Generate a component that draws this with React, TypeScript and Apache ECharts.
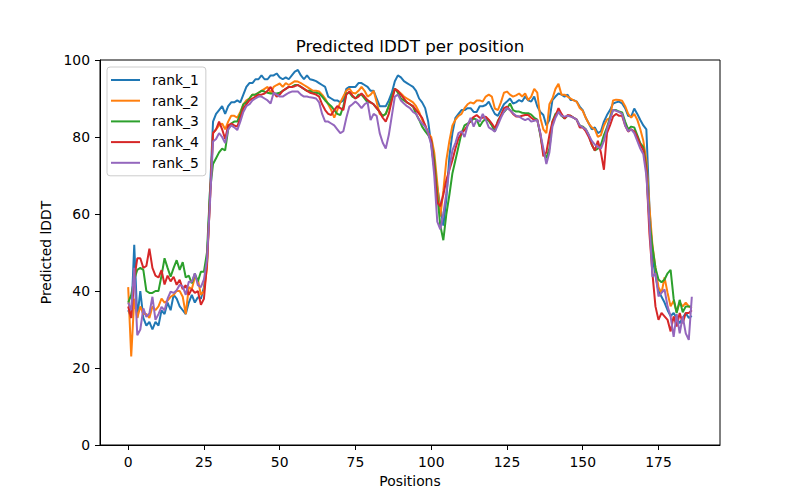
import React, { useEffect, useRef } from "react";
import * as echarts from "echarts";

const seriesNames = ["rank_1", "rank_2", "rank_3", "rank_4", "rank_5"];
const seriesColors = ["#1f77b4", "#ff7f0e", "#2ca02c", "#d62728", "#9467bd"];
const xTicks = [0, 25, 50, 75, 100, 125, 150, 175];
const yTicks = [0, 20, 40, 60, 80, 100];

const rank1 = [
  35, 33, 52, 33, 40, 33, 31, 32, 30, 32,
  31, 35, 34, 37, 35, 39, 38, 36, 35, 34,
  37, 39, 37, 38.4, 38, 41, 47, 66, 84, 86,
  87, 88, 86, 88, 89, 89, 89.5, 89, 91, 93,
  94, 94, 95, 95, 96, 95, 95, 96, 96, 96.5,
  95.5, 95, 95.5, 95, 96, 97, 97.4, 96, 95, 96,
  95, 94.8, 94.5, 94, 93.5, 93, 90.5, 90, 89.5, 89.5,
  89, 89.5, 92.5, 93, 93, 93, 94, 94, 93.5, 93,
  92, 92, 90, 88, 88, 88, 89.5, 91.5, 94.5, 96,
  95.5, 94.5, 94, 93.5, 93, 92, 90, 89, 87.5, 84,
  78, 72, 67, 62, 57, 64, 75, 81, 85, 86,
  87, 87, 87.5, 87.5, 86.5, 86.5, 88, 88, 88.3, 89.2,
  87.5, 86, 85.5, 87, 88.5, 89.2, 90, 88.7, 89, 89.6,
  89.2, 90.5, 89.5, 89.2, 90.5, 88, 86.5, 85.7, 83, 84.4,
  89.6, 90.5, 91.3, 91, 90.5, 91, 89.6, 89.6, 89.2, 87.9,
  87, 85, 83.5, 82, 82.5, 81, 81.5, 84, 85.7, 87,
  88.7, 89, 89.2, 88.7, 87.5, 85.5, 85.3, 87.4, 86, 84.4,
  83, 82, 62, 49, 44, 40, 38.5, 37, 35, 33.5,
  34.3, 33, 31.6, 33, 34.3, 33, 33.5,
];

const rank2 = [
  41, 23, 38, 33, 36, 34, 34, 33, 36, 35,
  36, 38, 37, 37.5, 38.5, 39, 40, 40, 38.5, 34,
  41, 40.5, 43.5, 43, 39, 40, 46, 64, 81, 82,
  83, 83.5, 82, 84, 85.5, 85.5, 85, 86.5, 88.5, 89.5,
  90, 91, 91, 91.5, 92, 92.5, 93, 91.5, 93, 93.5,
  93.9, 93, 94, 93.5, 94, 94.5, 94.4, 94, 93.5, 93,
  92.5, 92, 92, 91.8, 91, 90, 88.5, 87, 85, 87,
  89, 90.5, 92, 92.6, 91.5, 91.3, 92, 93, 92, 90.5,
  91, 92, 89, 86, 85.5, 86, 88, 90, 92.5, 92,
  91.3, 90.5, 90, 89.5, 89, 88, 86.5, 84.5, 83, 81,
  80, 76, 68, 59.3, 66, 74, 79, 83, 84.5, 85.5,
  86, 87.5, 88.5, 89, 88.7, 89.5, 89.5, 89.2, 90.5, 91,
  90.5, 87.4, 87, 89, 91.5, 91.8, 91, 90.5, 90.8, 91.3,
  90.5, 91.3, 89.6, 90.5, 92.5, 91.5, 85, 82, 81, 88.5,
  90, 92.5, 93.8, 91, 91, 90.5, 90, 89.5, 89.2, 87.5,
  86.8, 85, 83.5, 82.5, 82, 80, 80.5, 83, 84.5, 85,
  89.5, 89.7, 89.6, 89.4, 88, 86, 85, 86, 84.5, 82,
  79, 74, 62, 52, 46, 41, 39.5, 43.5, 39.5, 36,
  37.5, 34.5, 37, 36, 37, 36, 35.5,
];

const rank3 = [
  37, 39, 43, 45.5, 46, 45.5, 40, 39.5, 39.5, 40,
  40, 44, 48.5, 46, 43.7, 46, 48, 45.5, 47.5, 43.5,
  44, 42, 44.5, 42.5, 45, 45, 50, 66, 73, 74.5,
  76, 77, 76.5, 82, 83.5, 84, 84, 86, 88.5, 89,
  90, 91, 91, 91.5, 92, 91.8, 91.5, 91.3, 91.3, 91.3,
  91.5, 92, 92.5, 93, 93, 93.5, 93.5, 93, 92.5, 92,
  92, 91.5, 91.5, 91.3, 90.5, 89.5, 88.7, 88, 87, 86,
  85.7, 88, 91.3, 91.5, 90.5, 90, 91, 91, 90, 89,
  89, 88.5, 87.5, 86.5, 85.5, 86, 88, 90.5, 92.6, 91.5,
  90, 89.5, 89, 88.5, 87.9, 86, 84.5, 82.7, 81.5, 80.5,
  79, 74, 65, 57, 53.2, 60, 65, 70.6, 74, 77.5,
  81, 83, 83.5, 84, 84.8, 84.5, 82.7, 84, 84.8, 84.2,
  83, 81.4, 84.2, 85.5, 86.5, 87.4, 88.7, 87, 86.6, 86.6,
  86.3, 86.2, 86.2, 85.8, 85, 84.5, 80.5, 76, 74.5, 77,
  84, 86, 86.5, 85.5, 84.8, 85.5, 85.5, 85, 84.5, 83,
  82.7, 82, 80.5, 78, 76.5, 77, 78, 80.5, 82.5, 85,
  87, 87, 86.6, 86.4, 84, 82, 82.7, 82.5, 80.5, 78.4,
  77.4, 72.2, 58.4, 51.5, 46, 43, 42.3, 43, 44.6, 45.5,
  38, 34.3, 37.7, 34.5, 36, 36, 36,
];

const rank4 = [
  36, 33, 43, 48.5, 48.5, 46, 46.5, 51, 46, 44,
  43.5, 45.4, 41.7, 44, 42.5, 43.7, 41.6, 42.9, 40.5, 41.5,
  39, 40.5, 39.5, 40, 36.4, 38, 47, 64, 81, 82,
  84, 82, 79.5, 83, 83.5, 83, 82.7, 85, 87.5, 88.5,
  89.5, 90, 90.5, 91, 91, 91.3, 92, 93, 91.5, 90.5,
  91, 92, 92.5, 93, 93, 93.2, 93.5, 93, 92.5, 92,
  91.5, 91.3, 91, 90.5, 88.5, 87, 86, 85.7, 87, 88,
  87.5, 87, 91, 91.8, 90.8, 90, 90.5, 91.3, 90.5, 89.6,
  89, 88.5, 87.5, 86.5, 85, 84, 86, 89.5, 92.5, 92,
  91, 90, 89, 88.5, 88, 87, 86, 85, 83, 81,
  79, 72, 63, 62, 65, 68.8, 71.5, 74, 77, 79.7,
  81, 81.8, 83, 84.4, 85.2, 85.7, 85, 85, 85.3, 84.5,
  83.5, 82.3, 84, 85.7, 87.5, 87.9, 87, 86, 85.3, 85.3,
  85.5, 85.7, 85.7, 85, 84.4, 84.4, 81, 75, 76, 80.5,
  84, 85.5, 87.5, 86, 84.8, 85.7, 85.5, 85, 84.5, 82.5,
  82.5, 81.5, 80, 78, 76.5, 79, 76, 71.5, 81, 83,
  85.3, 86, 85.5, 85.5, 83, 81.4, 82, 81.5, 80, 78,
  76.6, 71.4, 55, 44.6, 36, 32.5, 34.3, 33.4, 32.5, 29.5,
  33.4, 30.8, 34.3, 31.6, 34.3, 34.3, 35,
];

const rank5 = [
  37, 35, 46, 28.5, 30, 35.5, 33.3, 34.2, 38.5, 32.5,
  34, 35.9, 35, 38, 39.8, 39.5, 40.2, 41.6, 41.2, 39,
  42.4, 42.4, 44.6, 41.5, 41, 43, 48, 63, 78.8, 79.5,
  81, 80, 78.4, 82, 83, 82.5, 81.8, 84, 86.5, 88,
  88.5, 89.5, 90, 90.5, 90.5, 90, 89.5, 88.7, 91.5, 91,
  90.5, 90.5, 91, 91.5, 91.8, 91.8, 91.8, 91, 90.5, 90.5,
  90.3, 90.2, 90, 89, 86, 84, 84, 83.5, 83, 82,
  81, 81.5, 85, 87.9, 88.5, 89.2, 88.5, 87.5, 88.5, 89,
  84.4, 86, 85.5, 81, 78.5, 77, 80.5, 85.5, 90.5, 91,
  89.5, 88.7, 88, 87.5, 86.5, 86, 84.5, 83.5, 82.7, 81,
  78, 70, 58, 56, 60, 65.4, 72, 76.5, 78.5, 81,
  81.5, 80, 83, 85, 82.7, 84.5, 84, 86, 84.5, 82.5,
  82, 81.4, 83.1, 85, 86.6, 87.5, 87, 86.2, 85.5, 85.3,
  84.8, 84.4, 84.8, 84, 84.2, 84.4, 81, 77, 73, 76,
  82.7, 85, 86.5, 85.5, 85.3, 85.5, 85.3, 85, 84.5, 83,
  82.5, 82, 80.5, 79, 78, 77.5, 77, 79, 82, 84.5,
  87, 86.8, 86.5, 86, 83, 81.5, 82, 81, 79, 77,
  75.5, 70, 58, 43.7, 44.6, 38.6, 39.5, 40.4, 36, 33.4,
  28.1, 34, 29, 33.4, 29, 27.3, 38.5,
];

const allSeries = [rank1, rank2, rank3, rank4, rank5];

const FONT = "DejaVu Sans";

export default function App() {
  const ref = useRef<HTMLDivElement>(null);

  useEffect(() => {
    if (!ref.current) return;
    const chart = echarts.init(ref.current, undefined, { renderer: "svg" });

    const series = allSeries.map((vals, k) => ({
      name: seriesNames[k],
      type: "line",
      data: vals.map((v, i) => [i, v]),
      showSymbol: false,
      symbol: "none",
      silent: true,
      lineStyle: { width: 2, color: seriesColors[k] },
      itemStyle: { color: seriesColors[k] },
      emphasis: { disabled: true },
    }));

    chart.setOption({
      animation: false,
      backgroundColor: "#ffffff",
      textStyle: { fontFamily: FONT },
      graphic: [
        {
          type: "text",
          x: 410,
          y: 46,
          style: {
            text: "Predicted lDDT per position",
            fontFamily: FONT,
            fontSize: 16.7,
            fill: "#000",
            align: "center",
            verticalAlign: "middle",
          },
        },
      ],
      grid: {
        left: 100,
        right: 80,
        top: 60,
        bottom: 55,
        show: true,
        borderColor: "#000",
        borderWidth: 1,
        containLabel: false,
      },
      legend: {
        orient: "vertical",
        left: 107,
        top: 67,
        padding: [6, 7, 6, 4],
        itemWidth: 29,
        itemHeight: 2,
        itemGap: 6.7,
        icon: "rect",
        backgroundColor: "rgba(255,255,255,0.8)",
        borderColor: "#cccccc",
        borderWidth: 1,
        borderRadius: 3,
        selectedMode: false,
        textStyle: {
          fontFamily: FONT,
          fontSize: 13.9,
          color: "#000",
          padding: [0, 0, 0, 7],
        },
        data: seriesNames,
      },
      xAxis: {
        type: "value",
        min: -9.3,
        max: 195.3,
        name: "Positions",
        nameLocation: "middle",
        nameGap: 27,
        nameTextStyle: { fontFamily: FONT, fontSize: 13.9, color: "#000" },
        axisLine: { show: true, onZero: false, lineStyle: { color: "#000", width: 1 } },
        axisTick: {
          show: true,
          length: 5,
          lineStyle: { color: "#000", width: 1 },
          customValues: xTicks,
        },
        axisLabel: {
          fontFamily: FONT,
          fontSize: 13.9,
          color: "#000",
          margin: 10,
          customValues: xTicks,
        },
        splitLine: { show: false },
      },
      yAxis: {
        type: "value",
        min: 0,
        max: 100,
        interval: 20,
        name: "Predicted lDDT",
        nameLocation: "middle",
        nameGap: 40,
        nameTextStyle: { fontFamily: FONT, fontSize: 13.9, color: "#000" },
        axisLine: { show: true, onZero: false, lineStyle: { color: "#000", width: 1 } },
        axisTick: {
          show: true,
          length: 5,
          lineStyle: { color: "#000", width: 1 },
          customValues: yTicks,
        },
        axisLabel: {
          fontFamily: FONT,
          fontSize: 13.9,
          color: "#000",
          margin: 10,
          customValues: yTicks,
        },
        splitLine: { show: false },
      },
      series,
    });

    return () => chart.dispose();
  }, []);

  return (
    <div
      ref={ref}
      style={{ position: "absolute", left: 0, top: 0, width: 800, height: 500 }}
    />
  );
}
